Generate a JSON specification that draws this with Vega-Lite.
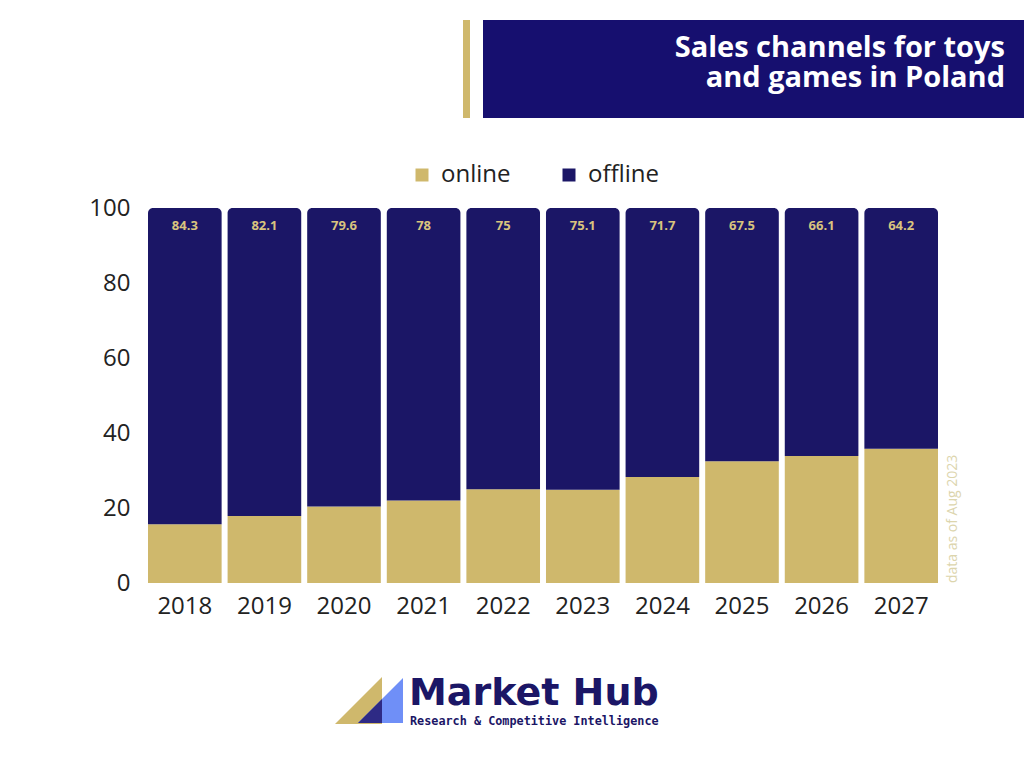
{
  "$schema": "https://vega.github.io/schema/vega-lite/v6.json",
  "width": 790,
  "height": 375,
  "autosize": "none",
  "padding": {"left": 148, "top": 208, "right": 86, "bottom": 185},
  "background": "white",
  "config": {
    "view": {"stroke": null},
    "font": "Open Sans",
    "legend": {
      "orient": "none",
      "legendX": 262,
      "legendY": -45,
      "direction": "horizontal",
      "symbolType": "square",
      "symbolSize": 169,
      "symbolOpacity": 1,
      "labelFontSize": 24,
      "labelColor": "#222222",
      "labelFont": "Open Sans",
      "columnPadding": 46,
      "symbolOffset": 0,
      "labelOffset": 7,
      "title": null
    }
  },
  "datasets": {
    "sales": [
      {"year": "2018", "channel": "online", "share": 15.7},
      {"year": "2018", "channel": "offline", "share": 84.3},
      {"year": "2019", "channel": "online", "share": 17.9},
      {"year": "2019", "channel": "offline", "share": 82.1},
      {"year": "2020", "channel": "online", "share": 20.4},
      {"year": "2020", "channel": "offline", "share": 79.6},
      {"year": "2021", "channel": "online", "share": 22},
      {"year": "2021", "channel": "offline", "share": 78},
      {"year": "2022", "channel": "online", "share": 25},
      {"year": "2022", "channel": "offline", "share": 75},
      {"year": "2023", "channel": "online", "share": 24.9},
      {"year": "2023", "channel": "offline", "share": 75.1},
      {"year": "2024", "channel": "online", "share": 28.3},
      {"year": "2024", "channel": "offline", "share": 71.7},
      {"year": "2025", "channel": "online", "share": 32.5},
      {"year": "2025", "channel": "offline", "share": 67.5},
      {"year": "2026", "channel": "online", "share": 33.9},
      {"year": "2026", "channel": "offline", "share": 66.1},
      {"year": "2027", "channel": "online", "share": 35.8},
      {"year": "2027", "channel": "offline", "share": 64.2}
    ]
  },
  "layer": [
    {
      "data": {"name": "sales"},
      "transform": [
        {"stack": "share", "groupby": ["year"], "sort": [{"field": "channel", "order": "descending"}], "as": ["y0", "y1"]}
      ],
      "layer": [
        {
          "transform": [{"filter": "datum.channel === 'online'"}],
          "mark": {"type": "bar"},
          "encoding": {
            "x": {
              "field": "year", "type": "nominal",
              "scale": {"paddingInner": 0.075, "paddingOuter": 0},
              "axis": {"title": null, "labelAngle": 0, "domain": false, "ticks": false, "labelFontSize": 24, "labelColor": "#222222", "labelPadding": 11, "labelFont": "Open Sans"}
            },
            "y": {
              "field": "y0", "type": "quantitative",
              "scale": {"domain": [0, 100], "nice": false},
              "axis": {"title": null, "values": [0, 20, 40, 60, 80, 100], "grid": false, "domain": false, "ticks": false, "labelFontSize": 24, "labelColor": "#222222", "labelPadding": 18, "labelFont": "Open Sans"}
            },
            "y2": {"field": "y1"},
            "color": {
              "field": "channel", "type": "nominal",
              "scale": {"domain": ["online", "offline"], "range": ["#cfb86c", "#1b1666"]}
            }
          }
        },
        {
          "transform": [{"filter": "datum.channel === 'offline'"}],
          "mark": {"type": "bar", "cornerRadiusTopLeft": 5, "cornerRadiusTopRight": 5},
          "encoding": {
            "x": {"field": "year", "type": "nominal"},
            "y": {"field": "y0", "type": "quantitative"},
            "y2": {"field": "y1"},
            "color": {"field": "channel", "type": "nominal"}
          }
        },
        {
          "transform": [{"filter": "datum.channel === 'offline'"}],
          "mark": {"type": "text", "dy": 18, "fontSize": 13, "fontWeight": "bold", "color": "#d9c47e", "font": "Open Sans", "baseline": "middle"},
          "encoding": {
            "x": {"field": "year", "type": "nominal"},
            "y": {"field": "y1", "type": "quantitative"},
            "text": {"field": "share", "type": "quantitative"}
          }
        }
      ]
    },
    {
      "data": {"values": [{}]},
      "mark": {"type": "rect", "color": "#cfb86c"},
      "encoding": {"x": {"value": 315}, "x2": {"value": 322}, "y": {"value": -188}, "y2": {"value": -90}}
    },
    {
      "data": {"values": [{}]},
      "mark": {"type": "rect", "color": "#160f6f"},
      "encoding": {"x": {"value": 335}, "x2": {"value": 876}, "y": {"value": -188}, "y2": {"value": -90}}
    },
    {
      "data": {"values": [{}]},
      "mark": {"type": "text", "align": "right", "baseline": "alphabetic", "fontSize": 29, "fontWeight": "bold", "font": "Open Sans", "color": "white", "lineHeight": 30},
      "encoding": {"x": {"value": 857}, "y": {"value": -151}, "text": {"value": ["Sales channels for toys", "and games in Poland"]}}
    },
    {
      "data": {"values": [{}]},
      "mark": {"type": "text", "align": "left", "baseline": "middle", "angle": 270, "fontSize": 14, "font": "Open Sans", "color": "#dcd5ad"},
      "encoding": {"x": {"value": 805}, "y": {"value": 375}, "text": {"value": "data as of Aug 2023"}}
    },
    {
      "data": {"values": [{}]},
      "mark": {"type": "point", "shape": "M-1,1L1,-1L1,1Z", "filled": true, "opacity": 1, "strokeWidth": 0, "color": "#cfb86c", "size": 2209},
      "encoding": {"x": {"value": 210.5}, "y": {"value": 492.5}}
    },
    {
      "data": {"values": [{}]},
      "mark": {"type": "point", "shape": "M-1,1L1,-1L1,1Z", "filled": true, "opacity": 1, "strokeWidth": 0, "color": "#6f8ff7", "size": 2025},
      "encoding": {"x": {"value": 232.5}, "y": {"value": 492.5}}
    },
    {
      "data": {"values": [{}]},
      "mark": {"type": "point", "shape": "M-1,1L1,-1L1,1Z", "filled": true, "opacity": 1, "strokeWidth": 0, "color": "#2e2a85", "size": 576},
      "encoding": {"x": {"value": 222}, "y": {"value": 503}}
    },
    {
      "data": {"values": [{}]},
      "mark": {"type": "text", "align": "left", "baseline": "alphabetic", "fontSize": 38, "fontWeight": "bold", "font": "DejaVu Sans", "color": "#1b1666"},
      "encoding": {"x": {"value": 261}, "y": {"value": 497}, "text": {"value": "Market Hub"}}
    },
    {
      "data": {"values": [{}]},
      "mark": {"type": "text", "align": "left", "baseline": "alphabetic", "fontSize": 11.8, "fontWeight": "bold", "font": "DejaVu Sans Mono", "color": "#1b1666"},
      "encoding": {"x": {"value": 262}, "y": {"value": 517}, "text": {"value": "Research & Competitive Intelligence"}}
    }
  ]
}
